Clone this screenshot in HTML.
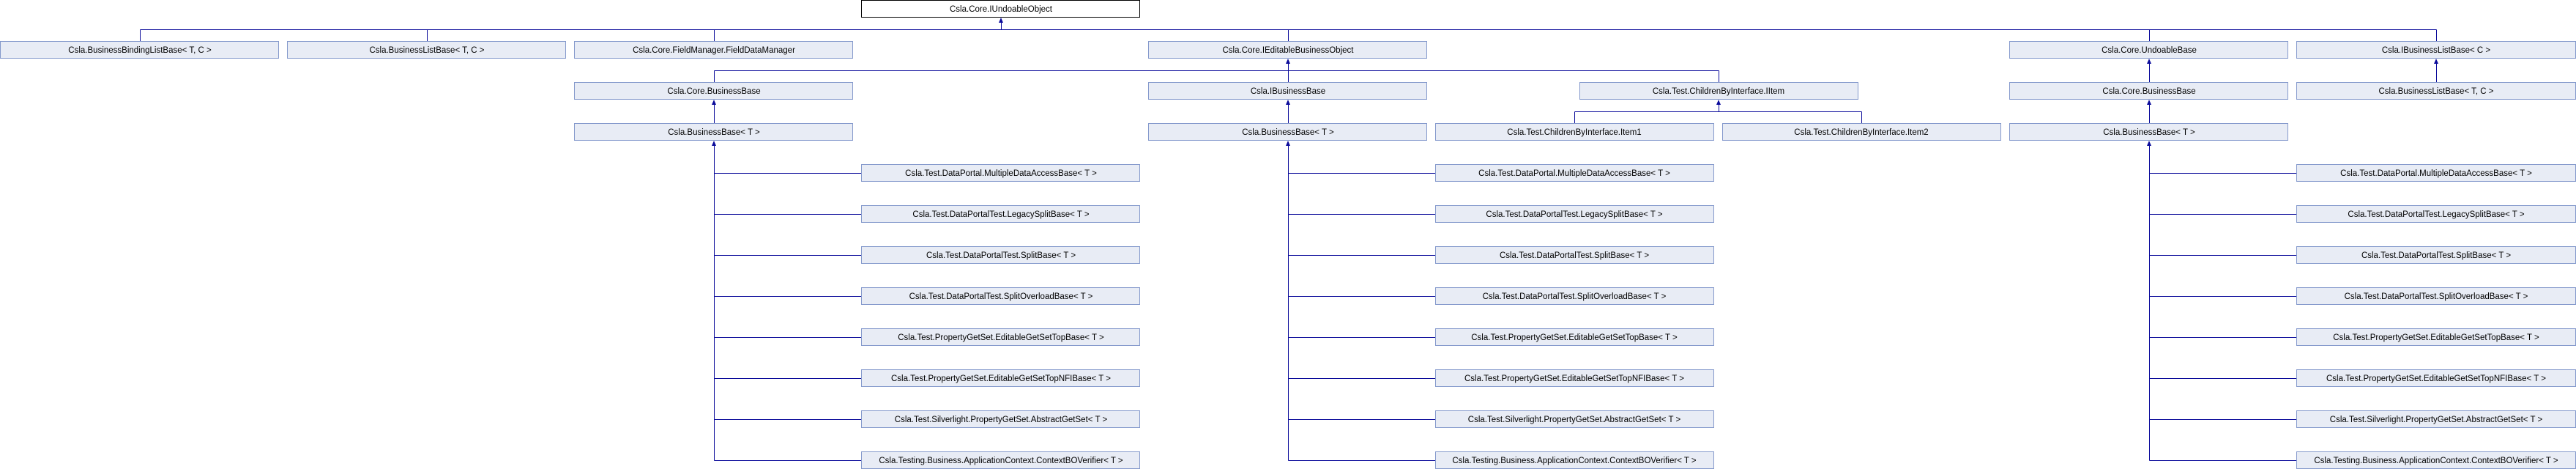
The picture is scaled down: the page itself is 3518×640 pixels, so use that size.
<!DOCTYPE html>
<html><head><meta charset="utf-8"><style>
html,body{margin:0;padding:0;background:#fff;}
svg{display:block;}
text{font-family:"Liberation Sans",sans-serif;font-size:11.5px;fill:#000;text-anchor:middle;}
.b{fill:#E8ECF5;stroke:#8499CC;stroke-width:1;}
.t{fill:#fff;stroke:#000;stroke-width:1;}
.l{stroke:#0A0A9A;stroke-width:1;fill:none;}
.a{fill:#0A0A9A;stroke:none;}
</style></head><body>
<svg width="3518" height="640" xmlns="http://www.w3.org/2000/svg">
<!-- top -->
<rect class="t" x="1176.5" y="0.5" width="380" height="23"/>
<text x="1367" y="16">Csla.Core.IUndoableObject</text>
<polygon class="a" points="1367,24 1364,31 1370,31"/>
<path class="l" d="M1367.5 30V40.5M191.5 40.5H3327.5M191.5 40.5V56M583.5 40.5V56M975.5 40.5V56M1759.5 40.5V56M2935.5 40.5V56M3327.5 40.5V56"/>

<!-- row1 -->
<rect class="b" x="0.5" y="56.5" width="380" height="23"/><text x="191" y="72">Csla.BusinessBindingListBase&lt; T, C &gt;</text>
<rect class="b" x="392.5" y="56.5" width="380" height="23"/><text x="583" y="72">Csla.BusinessListBase&lt; T, C &gt;</text>
<rect class="b" x="784.5" y="56.5" width="380" height="23"/><text x="975" y="72">Csla.Core.FieldManager.FieldDataManager</text>
<rect class="b" x="1568.5" y="56.5" width="380" height="23"/><text x="1759" y="72">Csla.Core.IEditableBusinessObject</text>
<rect class="b" x="2744.5" y="56.5" width="380" height="23"/><text x="2935" y="72">Csla.Core.UndoableBase</text>
<rect class="b" x="3136.5" y="56.5" width="381" height="23"/><text x="3327" y="72">Csla.IBusinessListBase&lt; C &gt;</text>

<!-- row1 -> row2 connectors -->
<polygon class="a" points="1759,80 1756,87 1762,87"/>
<path class="l" d="M1759.5 86V112M975.5 96.5H2347.5M975.5 96.5V112M2347.5 96.5V112"/>
<polygon class="a" points="2935,80 2932,87 2938,87"/>
<path class="l" d="M2935.5 86V112"/>
<polygon class="a" points="3327,80 3324,87 3330,87"/>
<path class="l" d="M3327.5 86V112"/>

<!-- row2 -->
<rect class="b" x="784.5" y="112.5" width="380" height="23"/><text x="975" y="128">Csla.Core.BusinessBase</text>
<rect class="b" x="1568.5" y="112.5" width="380" height="23"/><text x="1759" y="128">Csla.IBusinessBase</text>
<rect class="b" x="2157.5" y="112.5" width="380" height="23"/><text x="2347" y="128">Csla.Test.ChildrenByInterface.IItem</text>
<rect class="b" x="2744.5" y="112.5" width="380" height="23"/><text x="2935" y="128">Csla.Core.BusinessBase</text>
<rect class="b" x="3136.5" y="112.5" width="381" height="23"/><text x="3327" y="128">Csla.BusinessListBase&lt; T, C &gt;</text>

<!-- row2 -> row3 -->
<polygon class="a" points="975,136 972,143 978,143"/><path class="l" d="M975.5 142V168"/>
<polygon class="a" points="1759,136 1756,143 1762,143"/><path class="l" d="M1759.5 142V168"/>
<polygon class="a" points="2935,136 2932,143 2938,143"/><path class="l" d="M2935.5 142V168"/>
<polygon class="a" points="2347,136 2344,143 2350,143"/>
<path class="l" d="M2347.5 142V152.5M2150.5 152.5H2542.5M2150.5 152.5V168M2542.5 152.5V168"/>

<!-- row3 -->
<rect class="b" x="784.5" y="168.5" width="380" height="23"/><text x="975" y="184">Csla.BusinessBase&lt; T &gt;</text>
<rect class="b" x="1568.5" y="168.5" width="380" height="23"/><text x="1759" y="184">Csla.BusinessBase&lt; T &gt;</text>
<rect class="b" x="1960.5" y="168.5" width="380" height="23"/><text x="2150" y="184">Csla.Test.ChildrenByInterface.Item1</text>
<rect class="b" x="2352.5" y="168.5" width="380" height="23"/><text x="2542" y="184">Csla.Test.ChildrenByInterface.Item2</text>
<rect class="b" x="2744.5" y="168.5" width="380" height="23"/><text x="2935" y="184">Csla.BusinessBase&lt; T &gt;</text>

<!-- child trees -->
<polygon class="a" points="975,192 972,199 978,199"/>
<polygon class="a" points="1759,192 1756,199 1762,199"/>
<polygon class="a" points="2935,192 2932,199 2938,199"/>
<path class="l" d="M975.5 198V628.5M1759.5 198V628.5M2935.5 198V628.5
M975.5 236.5H1176M975.5 292.5H1176M975.5 348.5H1176M975.5 404.5H1176M975.5 460.5H1176M975.5 516.5H1176M975.5 572.5H1176M975.5 628.5H1176
M1759.5 236.5H1960M1759.5 292.5H1960M1759.5 348.5H1960M1759.5 404.5H1960M1759.5 460.5H1960M1759.5 516.5H1960M1759.5 572.5H1960M1759.5 628.5H1960
M2935.5 236.5H3136M2935.5 292.5H3136M2935.5 348.5H3136M2935.5 404.5H3136M2935.5 460.5H3136M2935.5 516.5H3136M2935.5 572.5H3136M2935.5 628.5H3136"/>

<!-- group A x=1176 -->
<rect class="b" x="1176.5" y="224.5" width="380" height="23"/><text x="1367" y="240">Csla.Test.DataPortal.MultipleDataAccessBase&lt; T &gt;</text>
<rect class="b" x="1176.5" y="280.5" width="380" height="23"/><text x="1367" y="296">Csla.Test.DataPortalTest.LegacySplitBase&lt; T &gt;</text>
<rect class="b" x="1176.5" y="336.5" width="380" height="23"/><text x="1367" y="352">Csla.Test.DataPortalTest.SplitBase&lt; T &gt;</text>
<rect class="b" x="1176.5" y="392.5" width="380" height="23"/><text x="1367" y="408">Csla.Test.DataPortalTest.SplitOverloadBase&lt; T &gt;</text>
<rect class="b" x="1176.5" y="448.5" width="380" height="23"/><text x="1367" y="464">Csla.Test.PropertyGetSet.EditableGetSetTopBase&lt; T &gt;</text>
<rect class="b" x="1176.5" y="504.5" width="380" height="23"/><text x="1367" y="520">Csla.Test.PropertyGetSet.EditableGetSetTopNFIBase&lt; T &gt;</text>
<rect class="b" x="1176.5" y="560.5" width="380" height="23"/><text x="1367" y="576">Csla.Test.Silverlight.PropertyGetSet.AbstractGetSet&lt; T &gt;</text>
<rect class="b" x="1176.5" y="616.5" width="380" height="23"/><text x="1367" y="632">Csla.Testing.Business.ApplicationContext.ContextBOVerifier&lt; T &gt;</text>

<!-- group B x=1960 -->
<rect class="b" x="1960.5" y="224.5" width="380" height="23"/><text x="2150" y="240">Csla.Test.DataPortal.MultipleDataAccessBase&lt; T &gt;</text>
<rect class="b" x="1960.5" y="280.5" width="380" height="23"/><text x="2150" y="296">Csla.Test.DataPortalTest.LegacySplitBase&lt; T &gt;</text>
<rect class="b" x="1960.5" y="336.5" width="380" height="23"/><text x="2150" y="352">Csla.Test.DataPortalTest.SplitBase&lt; T &gt;</text>
<rect class="b" x="1960.5" y="392.5" width="380" height="23"/><text x="2150" y="408">Csla.Test.DataPortalTest.SplitOverloadBase&lt; T &gt;</text>
<rect class="b" x="1960.5" y="448.5" width="380" height="23"/><text x="2150" y="464">Csla.Test.PropertyGetSet.EditableGetSetTopBase&lt; T &gt;</text>
<rect class="b" x="1960.5" y="504.5" width="380" height="23"/><text x="2150" y="520">Csla.Test.PropertyGetSet.EditableGetSetTopNFIBase&lt; T &gt;</text>
<rect class="b" x="1960.5" y="560.5" width="380" height="23"/><text x="2150" y="576">Csla.Test.Silverlight.PropertyGetSet.AbstractGetSet&lt; T &gt;</text>
<rect class="b" x="1960.5" y="616.5" width="380" height="23"/><text x="2150" y="632">Csla.Testing.Business.ApplicationContext.ContextBOVerifier&lt; T &gt;</text>

<!-- group C x=3136 -->
<rect class="b" x="3136.5" y="224.5" width="381" height="23"/><text x="3327" y="240">Csla.Test.DataPortal.MultipleDataAccessBase&lt; T &gt;</text>
<rect class="b" x="3136.5" y="280.5" width="381" height="23"/><text x="3327" y="296">Csla.Test.DataPortalTest.LegacySplitBase&lt; T &gt;</text>
<rect class="b" x="3136.5" y="336.5" width="381" height="23"/><text x="3327" y="352">Csla.Test.DataPortalTest.SplitBase&lt; T &gt;</text>
<rect class="b" x="3136.5" y="392.5" width="381" height="23"/><text x="3327" y="408">Csla.Test.DataPortalTest.SplitOverloadBase&lt; T &gt;</text>
<rect class="b" x="3136.5" y="448.5" width="381" height="23"/><text x="3327" y="464">Csla.Test.PropertyGetSet.EditableGetSetTopBase&lt; T &gt;</text>
<rect class="b" x="3136.5" y="504.5" width="381" height="23"/><text x="3327" y="520">Csla.Test.PropertyGetSet.EditableGetSetTopNFIBase&lt; T &gt;</text>
<rect class="b" x="3136.5" y="560.5" width="381" height="23"/><text x="3327" y="576">Csla.Test.Silverlight.PropertyGetSet.AbstractGetSet&lt; T &gt;</text>
<rect class="b" x="3136.5" y="616.5" width="381" height="23"/><text x="3327" y="632">Csla.Testing.Business.ApplicationContext.ContextBOVerifier&lt; T &gt;</text>
</svg>
</body></html>
